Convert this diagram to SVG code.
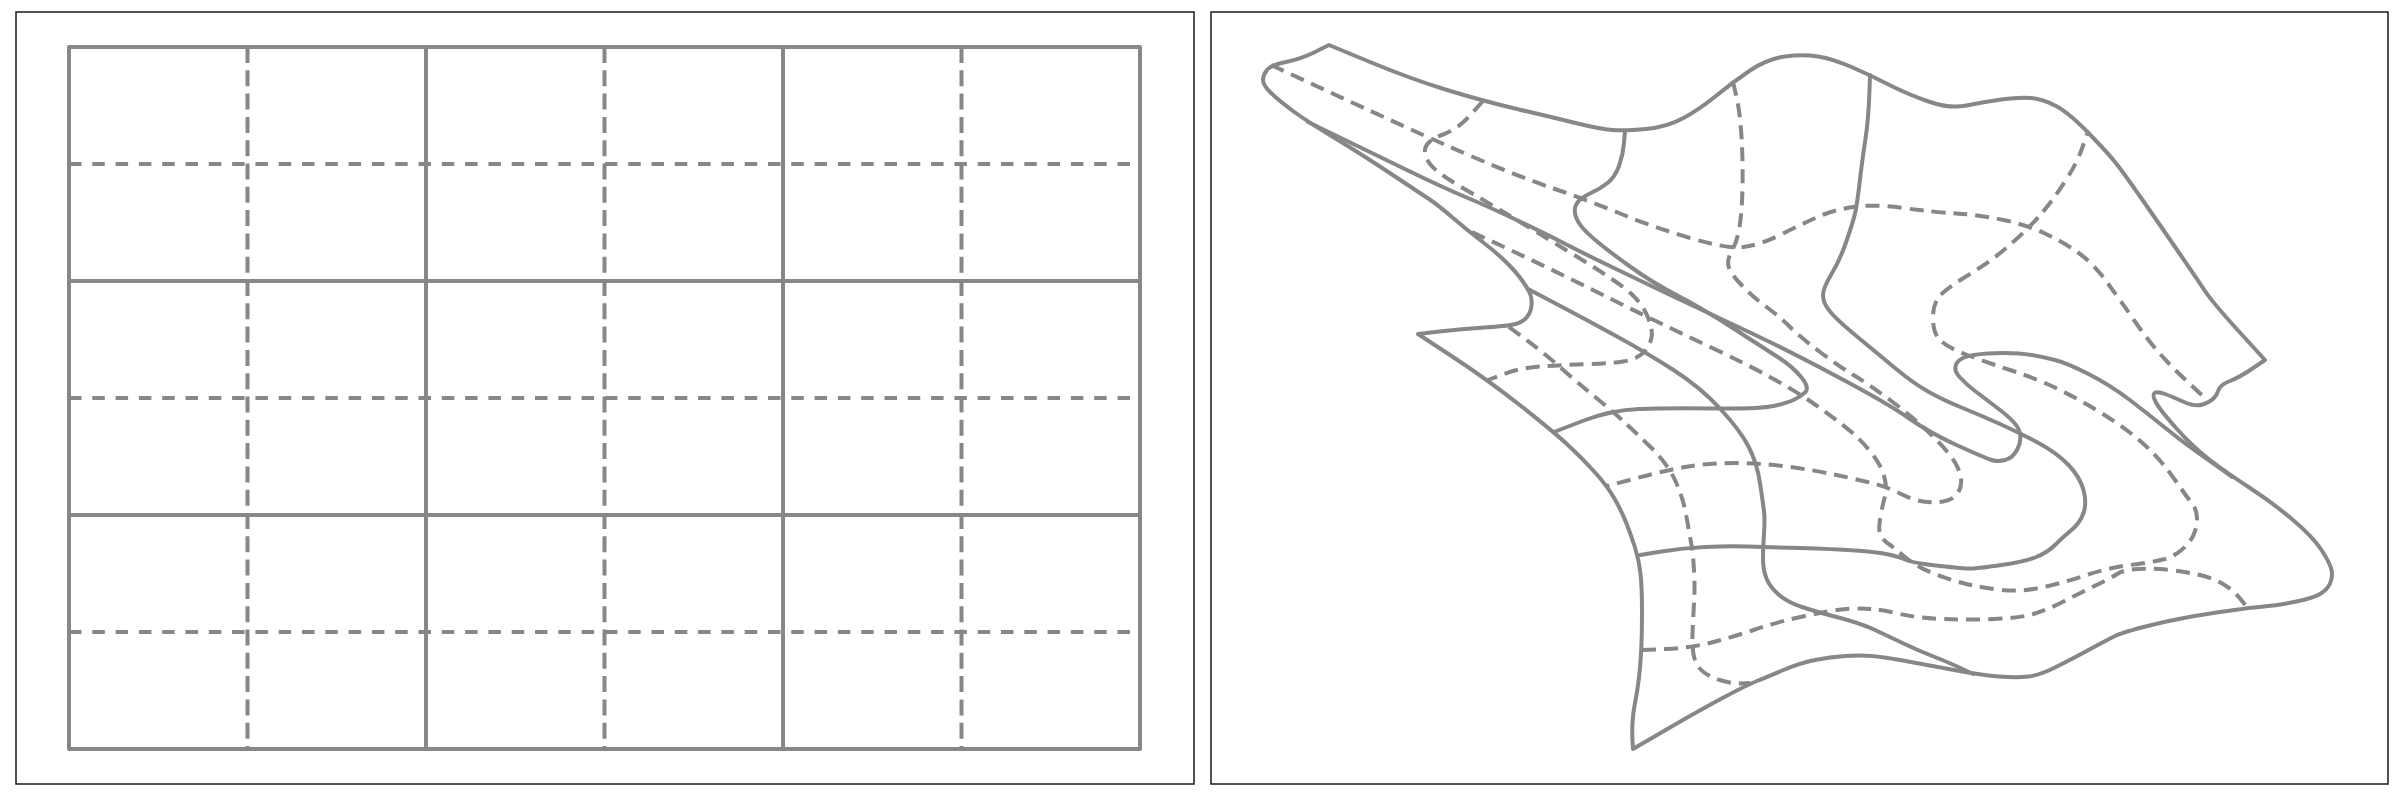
<svg xmlns="http://www.w3.org/2000/svg" width="2400" height="800" viewBox="0 0 2400 800">
<style>
.frame{fill:none;stroke:#1a1a1a;stroke-width:1.5}
.s{fill:none;stroke:#878787;stroke-width:4;stroke-linejoin:round;stroke-linecap:butt}
.dv{fill:none;stroke:#878787;stroke-width:4;stroke-dasharray:16 7.3}
.dh{fill:none;stroke:#878787;stroke-width:4;stroke-dasharray:12.5 10.8}
.ws{fill:none;stroke:#878787;stroke-width:4;stroke-linejoin:round;stroke-linecap:round}
.wd{fill:none;stroke:#878787;stroke-width:4;stroke-linejoin:round;stroke-dasharray:14 8}
</style>
<rect width="2400" height="800" fill="#ffffff"/>
<g id="panel-left">
<rect class="frame" x="16" y="12" width="1178" height="772"/>
<g id="grid-dashed">
<line class="dv" x1="247.5" y1="47" x2="247.5" y2="749"/>
<line class="dv" x1="604.5" y1="47" x2="604.5" y2="749"/>
<line class="dv" x1="961.5" y1="47" x2="961.5" y2="749"/>
<line class="dh" x1="69" y1="164" x2="1140" y2="164"/>
<line class="dh" x1="69" y1="398" x2="1140" y2="398"/>
<line class="dh" x1="69" y1="632" x2="1140" y2="632"/>
</g>
<g id="grid-solid">
<rect class="s" x="69" y="47" width="1071" height="702"/>
<line class="s" x1="426" y1="47" x2="426" y2="749"/>
<line class="s" x1="783" y1="47" x2="783" y2="749"/>
<line class="s" x1="69" y1="281" x2="1140" y2="281"/>
<line class="s" x1="69" y1="515" x2="1140" y2="515"/>
</g>
</g>
<g id="panel-right">
<rect class="frame" x="1211" y="12" width="1177" height="772"/>
<g id="warped-dashed">
<path id="G" class="wd" d="M1271,65 L1351,102 Q1431,139 1475.5,158 Q1520,177 1553.5,188.5 Q1587,200 1620,213.5 Q1653,227 1690,238 Q1727,249 1743.5,247 Q1760,245 1780,235 Q1800,225 1816.5,217.5 Q1833,210 1853,207 Q1873,204 1903,208 Q1933,212 1956.5,213.5 Q1980,215 2003.5,220 Q2027,225 2045,233.5 Q2063,242 2078,252.5 Q2093,263 2106.5,281.5 Q2120,300 2138.5,326.5 Q2157,353 2182,376.5 L2207,400"/>
<path id="H" class="wd" d="M1483,101 L1470.5,115 Q1458,129 1443,134.5 Q1428,140 1425.5,147.5 Q1423,155 1430,164 Q1437,173 1462,187.5 Q1487,202 1508.5,215 Q1530,228 1575,255.5 Q1620,283 1631.5,294 Q1643,305 1648,317.5 Q1653,330 1651.5,337.5 Q1650,345 1645,351 Q1640,357 1630,360 Q1620,363 1590,364 Q1560,365 1540,366.5 Q1520,368 1504,374 L1488,380"/>
<path id="I" class="wd" d="M1733,82 L1736.5,97 Q1740,112 1741.5,137 Q1743,162 1742.5,187 Q1742,212 1739.5,227 Q1737,242 1732,250.5 Q1727,259 1728.5,266 Q1730,273 1741.5,285 Q1753,297 1766.5,307 Q1780,317 1790,327 Q1800,337 1820,352 Q1840,367 1853.5,375 Q1867,383 1890,400 Q1913,417 1930,433.5 Q1947,450 1953.5,460 Q1960,470 1961,478.5 Q1962,487 1957.5,493.5 Q1953,500 1943,501.5 Q1933,503 1923,501.5 Q1913,500 1900,493.5 Q1887,487 1873.5,483.5 Q1860,480 1836.5,475 Q1813,470 1786.5,466.5 Q1760,463 1735,463 Q1710,463 1688.5,466.5 Q1667,470 1637,478 L1607,486"/>
<path id="J" class="wd" d="M1472,232 L1512.5,251 Q1553,270 1603,295 Q1653,320 1716.5,350 Q1780,380 1813.5,403.5 Q1847,427 1858.5,438.5 Q1870,450 1876.5,460 Q1883,470 1885,480 Q1887,490 1885,496.5 Q1883,503 1880.5,516.5 Q1878,530 1880.5,535 Q1883,540 1888,543.5 Q1893,547 1905,557 Q1917,567 1933.5,573.5 Q1950,580 1966.5,584 Q1983,588 2001.5,590 Q2020,592 2041.5,587.5 Q2063,583 2085,575.5 Q2107,568 2130,565 Q2153,562 2163,559.5 Q2173,557 2181.5,550 Q2190,543 2193.5,535 Q2197,527 2197,518.5 Q2197,510 2192,503.5 Q2187,497 2175,480 Q2163,463 2151.5,451.5 Q2140,440 2126.5,430 Q2113,420 2096.5,410 Q2080,400 2060,390 Q2040,380 2010,370 Q1980,360 1963.5,353.5 Q1947,347 1940,340 Q1933,333 1933,318 Q1933,303 1940,295.5 Q1947,288 1970,274 Q1993,260 2011.5,243.5 Q2030,227 2041.5,213.5 Q2053,200 2065,181.5 Q2077,163 2082,148.5 L2087,134"/>
<path id="K" class="wd" d="M1509,327 L1526.5,340 Q1544,353 1561,368 Q1578,383 1594.5,396.5 Q1611,410 1622,420 Q1633,430 1650,446.5 Q1667,463 1675,480 Q1683,497 1686.5,517 Q1690,537 1691.5,545 Q1693,553 1694,570 Q1695,587 1694,603.5 Q1693,620 1692.5,635 Q1692,650 1694.5,658.5 Q1697,667 1703.5,672 Q1710,677 1721.5,680.5 Q1733,684 1741.5,683.5 L1750,683"/>
<path id="N" class="wd" d="M1642,650 L1666,649 Q1690,648 1711.5,642.5 Q1733,637 1755,629.5 Q1777,622 1805,616 Q1833,610 1846.5,609 Q1860,608 1871.5,609 Q1883,610 1900,614 Q1917,618 1942,619 Q1967,620 1993.5,619 Q2020,618 2033.5,614 Q2047,610 2063.5,601.5 Q2080,593 2096.5,585 Q2113,577 2118,573.5 Q2123,570 2138,569 Q2153,568 2170,570 Q2187,572 2200,575 Q2213,578 2223,584 Q2233,590 2240,598.5 L2247,607"/>
</g>
<g id="warped-solid">
<path id="outline" class="ws" d="M1329,45 L1370,62 Q1411,79 1447,90 Q1483,101 1517,109 Q1551,117 1575.5,123 Q1600,129 1612.5,130 Q1625,131 1646,129 Q1667,127 1683.5,118 Q1700,109 1716.5,95.5 Q1733,82 1750,70.5 Q1767,59 1785,56.5 Q1803,54 1818,56.5 Q1833,59 1851.5,67 Q1870,75 1888.5,84.5 Q1907,94 1928.5,101.5 Q1950,109 1966.5,105.5 Q1983,102 2001.5,99.5 Q2020,97 2031,98 Q2042,99 2055,105.5 Q2068,112 2087.5,132 Q2107,152 2115,162 Q2123,172 2141.5,198.5 Q2160,225 2178.5,252 Q2197,279 2205,291 Q2213,303 2239,331.5 L2265,360 L2252.5,368.5 Q2240,377 2230,381 Q2220,385 2218.5,390 Q2217,395 2213.5,398.5 Q2210,402 2202.5,404.5 Q2195,407 2184,402 Q2173,397 2165,394 Q2157,391 2154.5,393 Q2152,395 2156,402.5 Q2160,410 2176.5,428.5 Q2193,447 2210,460 Q2227,473 2250,488 Q2273,503 2293,520 Q2313,537 2321.5,550 Q2330,563 2331.5,570 Q2333,577 2330,583.5 Q2327,590 2320,594 Q2313,598 2296.5,601.5 Q2280,605 2263.5,606.5 Q2247,608 2213.5,613 Q2180,618 2151.5,625 Q2123,632 2115,636 Q2107,640 2088.5,650 Q2070,660 2055,667.5 Q2040,675 2028.5,676.5 Q2017,678 1998.5,676.5 Q1980,675 1948.5,669 Q1917,663 1900,660 Q1883,657 1871.5,656 Q1860,655 1845,656 Q1830,657 1815,660 Q1800,663 1783.5,670 Q1767,677 1757,681 Q1747,685 1723.5,697.5 Q1700,710 1666.5,729.5 L1633,749 L1632.5,741 Q1632,733 1632.5,723 Q1633,713 1635,703 Q1637,693 1638.5,681.5 Q1640,670 1641,653.5 Q1642,637 1642,612 Q1642,587 1640.5,573.5 Q1639,560 1635,547.5 Q1631,535 1626.5,523.5 Q1622,512 1615,499.5 Q1608,487 1596,473.5 Q1584,460 1569,446 Q1554,432 1521,406 Q1488,380 1453,357 L1418,334 L1439.5,331.5 Q1461,329 1484.5,327.5 Q1508,326 1515.5,324 Q1523,322 1527,317 Q1531,312 1531.5,305 Q1532,298 1530,293.5 Q1528,289 1522.5,281 Q1517,273 1507,263 Q1497,253 1482,241.5 Q1467,230 1452.5,217.5 Q1438,205 1429,199 Q1420,193 1389,172.5 Q1358,152 1333,137 Q1308,122 1293,111 Q1278,100 1270.5,92.5 Q1263,85 1263,80 Q1263,75 1267,70 Q1271,65 1286,62 Q1301,59 1315,52 L1329,45 Z"/>
<path id="B" class="ws" d="M1625,131 L1624,143 Q1623,155 1619,166 Q1615,177 1607.5,183 Q1600,189 1590,193.5 Q1580,198 1576.5,204 Q1573,210 1576.5,218.5 Q1580,227 1593.5,238.5 Q1607,250 1630,266.5 Q1653,283 1676.5,295 Q1700,307 1733.5,328.5 Q1767,350 1780,358.5 Q1793,367 1801.5,377.5 Q1810,388 1805,392.5 Q1800,397 1793.5,400 Q1787,403 1773.5,406 Q1760,409 1713.5,408.5 Q1667,408 1639,409 Q1611,410 1582.5,421 L1554,432"/>
<path id="C" class="ws" d="M1870,75 L1869.5,90 Q1869,105 1868,117 Q1867,129 1864.5,145.5 Q1862,162 1859.5,183.5 Q1857,205 1855,213.5 Q1853,222 1846.5,241 Q1840,260 1831.5,274 Q1823,288 1823,295.5 Q1823,303 1830,311.5 Q1837,320 1857,336.5 Q1877,353 1895,368 Q1913,383 1928,391.5 Q1943,400 1961.5,407.5 Q1980,415 2000,424 Q2020,433 2038.5,443 Q2057,453 2068.5,465 Q2080,477 2083.5,490 Q2087,503 2083.5,513 Q2080,523 2071.5,530 Q2063,537 2055,545 Q2047,553 2035,557.5 Q2023,562 2001.5,565 Q1980,568 1973.5,568.5 Q1967,569 1940,566 Q1913,563 1906.5,560 Q1900,557 1888.5,554.5 Q1877,552 1855,550.5 Q1833,549 1800,548 Q1767,547 1747,546.5 Q1727,546 1705,547 Q1683,548 1661.5,551.5 L1640,555"/>
<path id="DF" class="ws" d="M1308,122 L1343,139 Q1378,156 1411,172 Q1444,188 1465.5,197 Q1487,206 1515.5,219.5 Q1544,233 1565.5,244 Q1587,255 1603.5,263 Q1620,271 1653.5,287 Q1687,303 1700,309 Q1713,315 1750,332.5 Q1787,350 1837,376.5 Q1887,403 1908.5,418 Q1930,433 1956.5,445 Q1983,457 1990,459.5 Q1997,462 2005,460 Q2013,458 2017.5,449 Q2022,440 2019.5,431.5 Q2017,423 2000,410 Q1983,397 1975,391 Q1967,385 1960,377.5 Q1953,370 1956.5,363.5 Q1960,357 1973.5,355 Q1987,353 2003.5,353 Q2020,353 2031.5,355 Q2043,357 2055,360 Q2067,363 2088.5,374 Q2110,385 2128.5,399 Q2147,413 2163.5,426.5 Q2180,440 2196.5,451.5 Q2213,463 2222.5,470 L2232,477"/>
<path id="E" class="ws" d="M1528,289 L1557.5,304.5 Q1587,320 1617,336.5 Q1647,353 1673.5,370 Q1700,387 1720,408.5 Q1740,430 1748.5,446.5 Q1757,463 1760,483 Q1763,503 1764,511.5 Q1765,520 1764,533.5 Q1763,547 1763,558.5 Q1763,570 1766.5,578.5 Q1770,587 1778.5,594.5 Q1787,602 1802,607 Q1817,612 1838.5,617.5 Q1860,623 1875,630 Q1890,637 1903.5,643.5 Q1917,650 1933.5,656.5 Q1950,663 1961.5,668.5 L1973,674"/>
</g>
</g>
</svg>
